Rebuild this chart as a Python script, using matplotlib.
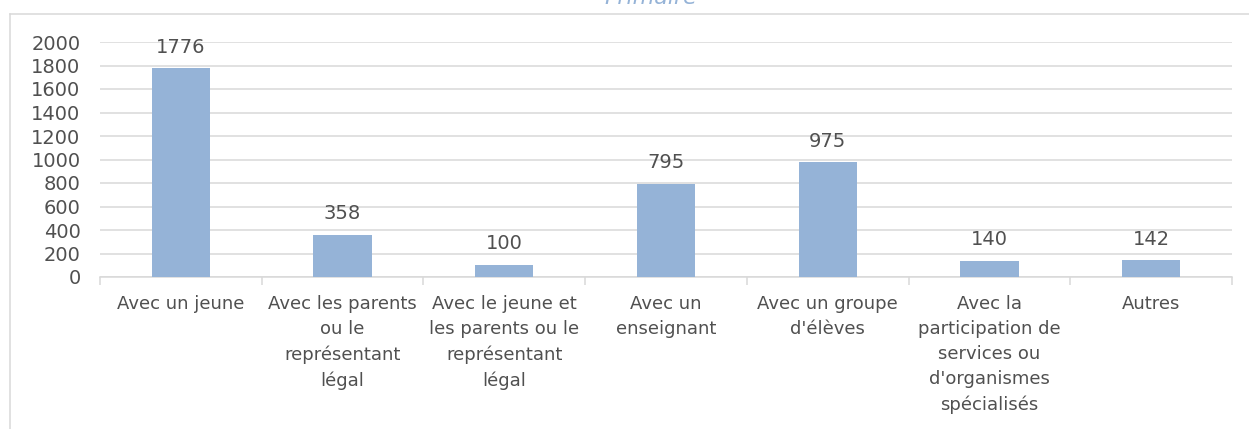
import matplotlib
matplotlib.use("Agg")
import matplotlib.pyplot as plt
from matplotlib.lines import Line2D

categories = [
    "Avec un jeune",
    "Avec les parents\nou le\nreprésentant\nlégal",
    "Avec le jeune et\nles parents ou le\nreprésentant\nlégal",
    "Avec un\nenseignant",
    "Avec un groupe\nd'élèves",
    "Avec la\nparticipation de\nservices ou\nd'organismes\nspécialisés",
    "Autres",
]
values = [1776, 358, 100, 795, 975, 140, 142]
yticks = [0, 200, 400, 600, 800, 1000, 1200, 1400, 1600, 1800, 2000]
title = "Primaire"

plt.rcParams['font.family'] = ['DejaVu Sans']
text_color = '#505050'
bar_color = '#95B3D7'
grid_color = '#D9D9D9'

W, H = 1249, 429
fig = plt.figure(figsize=(W / 100, H / 100), dpi=100)
ax = fig.add_axes([100 / W, 1 - 277 / H, (1232 - 100) / W, (277 - 42) / H])

x = list(range(len(categories)))
ax.bar(x, values, width=0.36, color=bar_color, zorder=3)
for xi, v in zip(x, values):
    ax.annotate(str(v), (xi, v), xytext=(0, 8.5), textcoords='offset points',
                ha='center', va='bottom', fontsize=14, color=text_color)

ax.set_xlim(-0.5, len(categories) - 0.5)
ax.set_ylim(0, 2000)
ax.set_yticks(yticks)
ax.set_yticklabels([str(t) for t in yticks], fontsize=14, color=text_color)
ax.tick_params(axis='y', length=0, pad=14)
ax.yaxis.grid(True, color=grid_color, linewidth=1.1, zorder=0)

ax.set_xticks(x)
ax.set_xticklabels(categories, fontsize=13, color=text_color, linespacing=1.5, va='top')
ax.tick_params(axis='x', which='major', length=0, pad=13)
ax.set_xticks([i - 0.5 for i in range(len(categories) + 1)], minor=True)
ax.tick_params(axis='x', which='minor', length=6, color=grid_color, width=1.1)

for s in ['top', 'right', 'left']:
    ax.spines[s].set_visible(False)
ax.spines['bottom'].set_color(grid_color)
ax.spines['bottom'].set_linewidth(1.1)

# chart area border (cropped)
fig.add_artist(Line2D([10 / W, 1], [1 - 14 / H, 1 - 14 / H], color=grid_color, lw=1.1, transform=fig.transFigure))
fig.add_artist(Line2D([10 / W, 10 / W], [0, 1 - 14 / H], color=grid_color, lw=1.1, transform=fig.transFigure))

fig.text(651 / W, 1 - 4 / H, title, ha='center', va='baseline', fontsize=16,
         style='italic', color='#95B3D7')

fig.savefig('out.png', dpi=100, facecolor='white')
